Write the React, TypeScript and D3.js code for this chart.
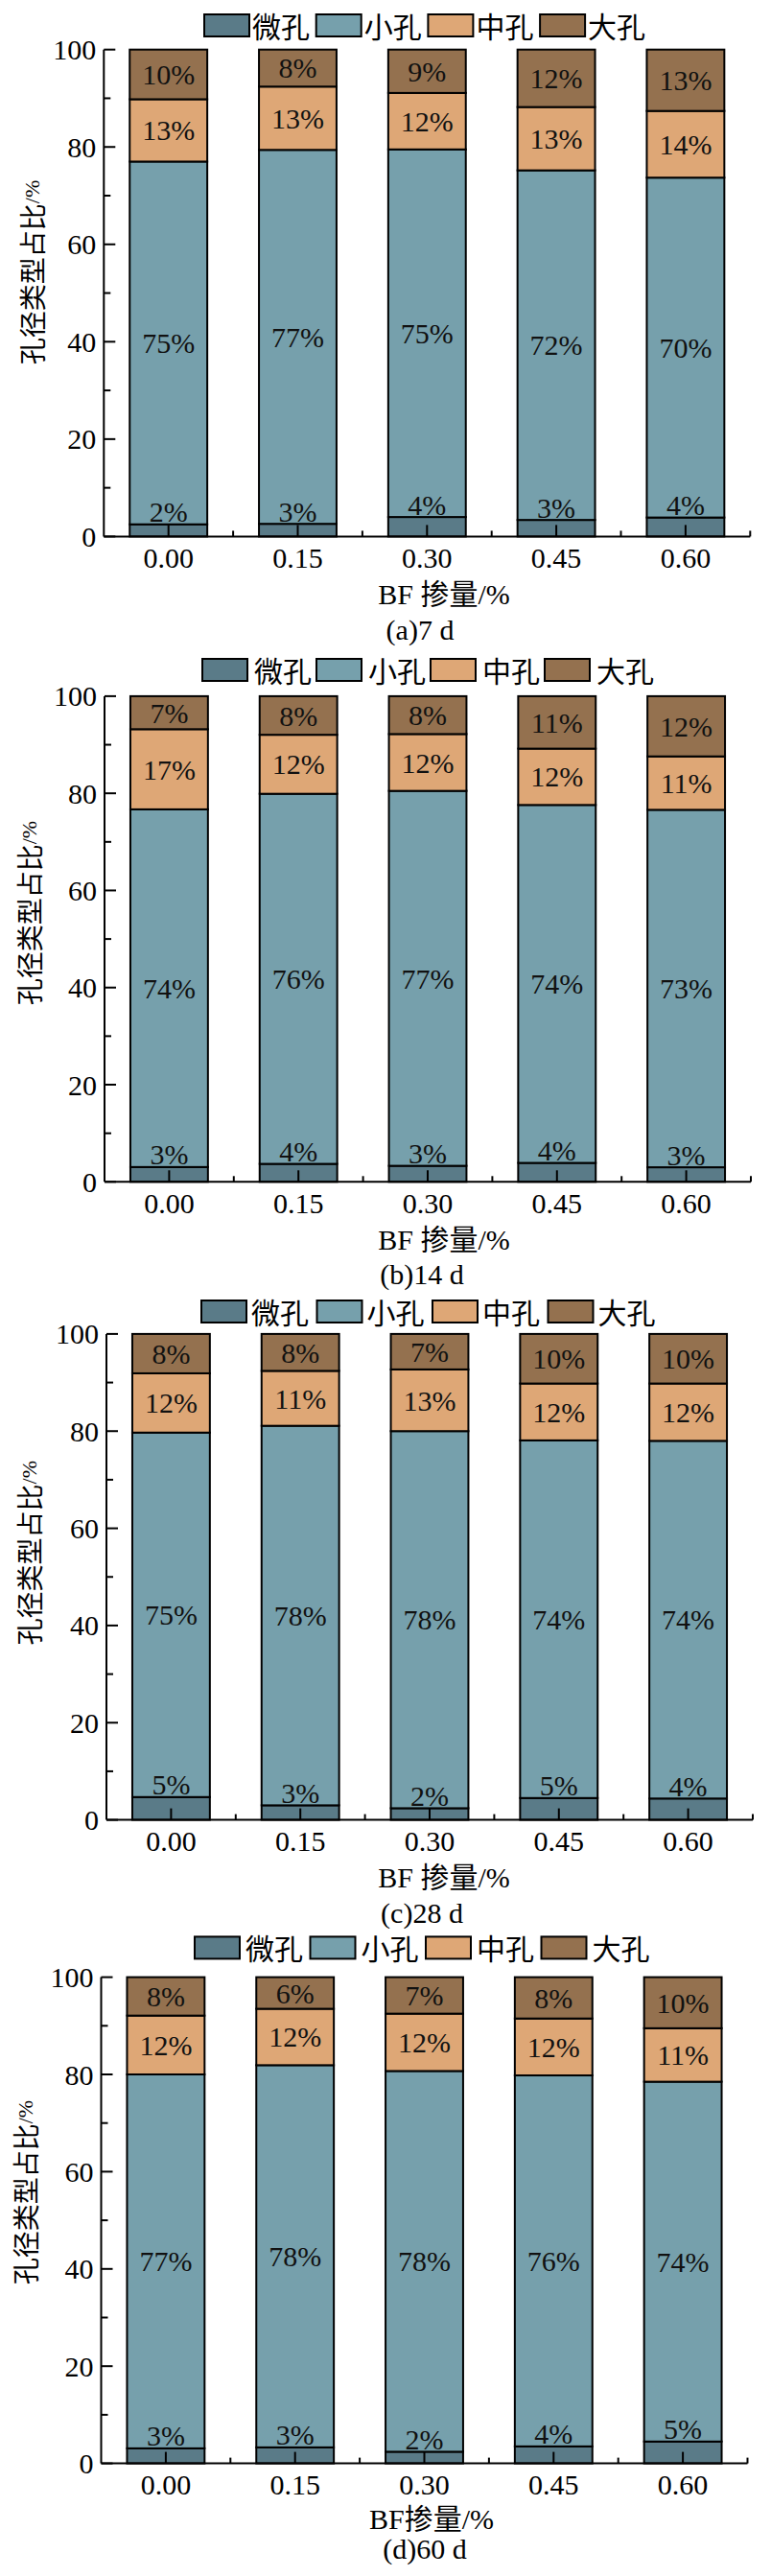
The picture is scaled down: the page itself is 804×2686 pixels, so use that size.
import React from "react";
import * as d3 from "d3";

// ---------- data ----------
const categories = ["0.00", "0.15", "0.30", "0.45", "0.60"];
const seriesNames = ["微孔", "小孔", "中孔", "大孔"];
const seriesColors = ["#5a7b88", "#76a0ac", "#dea776", "#94714f"];
const yTicksMajor = [0, 20, 40, 60, 80, 100];
const yTicksMinor = [10, 30, 50, 70, 90];

// panel (a) 7 d
const microA = [2.5, 2.6, 4.0, 3.4, 3.9];
const smallA = [74.5, 76.8, 75.5, 71.8, 69.8];
const mesoA = [12.8, 13.0, 11.6, 13.0, 13.7];
const macroA = [10.2, 7.6, 8.9, 11.8, 12.6];
const labelsA = [
  [2, 3, 4, 3, 4],
  [75, 77, 75, 72, 70],
  [13, 13, 12, 13, 14],
  [10, 8, 9, 12, 13],
];

// panel (b) 14 d
const microB = [3.05, 3.7, 3.3, 3.9, 3.0];
const smallB = [73.65, 76.2, 77.2, 73.7, 73.6];
const mesoB = [16.5, 12.15, 11.7, 11.6, 11.0];
const macroB = [6.8, 7.95, 7.8, 10.8, 12.4];
const labelsB = [
  [3, 4, 3, 4, 3],
  [74, 76, 77, 74, 73],
  [17, 12, 12, 12, 11],
  [7, 8, 8, 11, 12],
];

// panel (c) 28 d
const microC = [4.7, 3.0, 2.4, 4.5, 4.4];
const smallC = [75.0, 78.1, 77.6, 73.6, 73.6];
const mesoC = [12.2, 11.3, 12.7, 11.7, 11.8];
const macroC = [8.1, 7.6, 7.3, 10.2, 10.2];
const labelsC = [
  [5, 3, 2, 5, 4],
  [75, 78, 78, 74, 74],
  [12, 11, 13, 12, 12],
  [8, 8, 7, 10, 10],
];

// panel (d) 60 d
const microD = [3.1, 3.3, 2.4, 3.5, 4.5];
const smallD = [76.9, 78.6, 78.3, 76.3, 74.0];
const mesoD = [12.1, 11.6, 11.8, 11.7, 11.0];
const macroD = [7.9, 6.5, 7.5, 8.5, 10.5];
const labelsD = [
  [3, 3, 2, 4, 5],
  [77, 78, 78, 76, 74],
  [12, 12, 12, 12, 11],
  [8, 6, 7, 8, 10],
];

const captions = ["(a)7 d", "(b)14 d", "(c)28 d", "(d)60 d"];
const xTitles = ["BF 掺量/%", "BF 掺量/%", "BF 掺量/%", "BF掺量/%"];
const yTitle = "孔径类型占比";

// ---------- layout ----------
const W = 804;
const H = 2686;
const PLOT_W = 674;
const SERIF = "'Liberation Serif', 'Times New Roman', serif";
const MIXED = "'Liberation Serif', 'Noto Sans CJK SC', serif";
const CJK = "'Noto Sans CJK SC', sans-serif";

const layouts = [
  { ax: 108.3, y100: 51.7, y0: 559.4, lgX: 213, lgStep: 116.7, lgY: 15, lgTxt: 52, ylX: 33, ylOff: -21.6, bfX: 463, bfDy: 70.6, capX: 438, capDy: 107.3 },
  { ax: 109, y100: 725.9, y0: 1232.3, lgX: 211, lgStep: 119, lgY: 687, lgTxt: 56, ylX: 30, ylOff: -27, bfX: 463, bfDy: 70.6, capX: 440, capDy: 107 },
  { ax: 111, y100: 1390.9, y0: 1897.6, lgX: 210, lgStep: 120.5, lgY: 1356, lgTxt: 54, ylX: 30, ylOff: -25, bfX: 463, bfDy: 70.6, capX: 440, capDy: 107 },
  { ax: 105.5, y100: 2061.6, y0: 2568.6, lgX: 203, lgStep: 120.5, lgY: 2019.4, lgTxt: 55, ylX: 26, ylOff: -29, bfX: 450, bfDy: 68, capX: 443, capDy: 99.7 },
];

const panelData = [
  { series: [microA, smallA, mesoA, macroA], labels: labelsA },
  { series: [microB, smallB, mesoB, macroB], labels: labelsB },
  { series: [microC, smallC, mesoC, macroC], labels: labelsC },
  { series: [microD, smallD, mesoD, macroD], labels: labelsD },
];

function Panel({ idx }: { idx: number }) {
  const L = layouts[idx];
  const P = panelData[idx];
  const x = d3
    .scaleBand<string>()
    .domain(categories)
    .range([L.ax, L.ax + PLOT_W])
    .paddingInner(0.4)
    .paddingOuter(0.2);
  const y = d3.scaleLinear().domain([0, 100]).range([L.y0, L.y100]);

  const rows = categories.map((c, i) => {
    const r: any = { cat: c };
    seriesNames.forEach((s, k) => (r[s] = P.series[k][i]));
    return r;
  });
  const stacked = d3.stack<any>().keys(seriesNames)(rows);

  const step = x.step();
  const minorX = d3.range(1, categories.length + 1).map((k) => L.ax + k * step);
  const bw = x.bandwidth();

  return (
    <g>
      {/* bars */}
      {stacked.map((layer, k) => (
        <g key={k}>
          {layer.map((d, i) => (
            <rect
              key={i}
              x={x(categories[i])!}
              y={y(d[1])}
              width={bw}
              height={y(d[0]) - y(d[1])}
              fill={seriesColors[k]}
              stroke="#000"
              strokeWidth={2}
            />
          ))}
        </g>
      ))}

      {/* axes */}
      <g stroke="#000" strokeWidth={2} fill="none">
        <line x1={L.ax} x2={L.ax} y1={y(0)} y2={y(100)} />
        <line x1={L.ax} x2={L.ax + PLOT_W} y1={y(0)} y2={y(0)} />
        {yTicksMajor.map((t) => (
          <line key={"ym" + t} x1={L.ax} x2={L.ax + 12} y1={y(t)} y2={y(t)} />
        ))}
        {yTicksMinor.map((t) => (
          <line key={"yn" + t} x1={L.ax} x2={L.ax + 7} y1={y(t)} y2={y(t)} />
        ))}
        {categories.map((c) => (
          <line key={"xm" + c} x1={x(c)! + bw / 2} x2={x(c)! + bw / 2} y1={y(0)} y2={y(0) - 12} />
        ))}
        {minorX.map((px, k) => (
          <line key={"xn" + k} x1={px} x2={px} y1={y(0)} y2={y(0) - 6} />
        ))}
      </g>

      {/* y tick labels */}
      {yTicksMajor.map((t) => (
        <text
          key={"yl" + t}
          x={L.ax - 8}
          y={y(t)}
          textAnchor="end"
          dominantBaseline="central"
          fontFamily={SERIF}
          fontSize={30}
          fill="#000"
        >
          {t}
        </text>
      ))}

      {/* x tick labels */}
      {categories.map((c) => (
        <text
          key={"xl" + c}
          x={x(c)! + bw / 2}
          y={y(0) + 32.5}
          textAnchor="middle"
          fontFamily={SERIF}
          fontSize={30}
          fill="#000"
        >
          {c}
        </text>
      ))}

      {/* value labels */}
      {stacked.map((layer, k) =>
        layer.map((d, i) => {
          const cx = x(categories[i])! + bw / 2;
          const txt = P.labels[k][i] + "%";
          if (k === 0) {
            return (
              <text
                key={"v" + k + i}
                x={cx}
                y={y(d[1]) - 2.5}
                textAnchor="middle"
                fontFamily={SERIF}
                fontSize={30}
                fill="#111"
              >
                {txt}
              </text>
            );
          }
          return (
            <text
              key={"v" + k + i}
              x={cx}
              y={(y(d[0]) + y(d[1])) / 2}
              textAnchor="middle"
              dominantBaseline="central"
              fontFamily={SERIF}
              fontSize={30}
              fill="#111"
            >
              {txt}
            </text>
          );
        })
      )}

      {/* legend */}
      {seriesNames.map((s, k) => {
        const bx = L.lgX + k * L.lgStep;
        return (
          <g key={"lg" + k}>
            <rect x={bx} y={L.lgY} width={47} height={23} fill={seriesColors[k]} stroke="#000" strokeWidth={2} />
            <text
              x={bx + L.lgTxt - 2}
              y={L.lgY + 11}
              dominantBaseline="central"
              fontFamily={CJK}
              fontSize={30}
              fill="#000"
            >
              {s}
            </text>
          </g>
        );
      })}

      {/* y title */}
      <text
        transform={`translate(${L.ylX},${(L.y0 + L.y100) / 2 + L.ylOff}) rotate(-90)`}
        textAnchor="middle"
        dominantBaseline="central"
        fontFamily={MIXED}
        fontSize={28}
        fill="#000"
      >
        <tspan fontFamily={CJK}>{yTitle}</tspan>
        <tspan fontFamily={SERIF} fontSize={22}>/%</tspan>
      </text>

      {/* x title */}
      <text x={L.bfX} y={L.y0 + L.bfDy} textAnchor="middle" fontFamily={MIXED} fontSize={30} fill="#000">
        {xTitles[idx]}
      </text>

      {/* caption */}
      <text x={L.capX} y={L.y0 + L.capDy} textAnchor="middle" fontFamily={SERIF} fontSize={30} fill="#000">
        {captions[idx]}
      </text>
    </g>
  );
}

export default function App() {
  return (
    <div>
      <style>{`body{margin:0;background:#fff}`}</style>
      <svg width={W} height={H} viewBox={`0 0 ${W} ${H}`} style={{ display: "block" }}>
        <rect x={0} y={0} width={W} height={H} fill="#fff" />
        {layouts.map((_, i) => (
          <Panel key={i} idx={i} />
        ))}
      </svg>
    </div>
  );
}
